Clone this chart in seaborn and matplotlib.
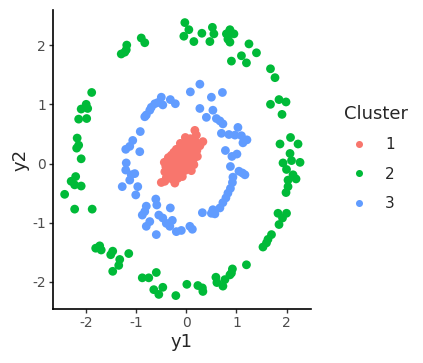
import matplotlib
matplotlib.use("Agg")
import matplotlib.pyplot as plt
import numpy as np
import pandas as pd
import seaborn as sns

# ---- data ----
# cluster 1: dense blob in the middle
c1_y1 = [-0.02, 0.08, 0.17, 0.20,
         -0.12, -0.02, 0.08, 0.18, 0.27, 0.33,
         -0.20, -0.09, 0.01, 0.11, 0.21,
         -0.30, -0.19, -0.11, 0.00, 0.09, 0.16,
         -0.38, -0.27, -0.18, -0.07, 0.03, 0.13,
         -0.41, -0.31, -0.20, -0.10, -0.01, 0.08,
         -0.43, -0.33, -0.22, -0.12, -0.03,
         -0.40, -0.29, -0.17, -0.08,
         -0.50, -0.43, -0.23, -0.35, -0.05, 0.04,
         -0.25, -0.15, -0.05, 0.05, -0.35, -0.25, -0.14, 0.12, 0.22,
         0.15, -0.44, 0.22, -0.36, 0.10]
c1_y2 = [0.44, 0.42, 0.56, 0.48,
         0.34, 0.36, 0.33, 0.37, 0.30, 0.37,
         0.24, 0.26, 0.23, 0.25, 0.22,
         0.14, 0.16, 0.12, 0.15, 0.13, 0.10,
         0.05, 0.04, 0.06, 0.03, 0.05, 0.02,
         -0.05, -0.06, -0.04, -0.05, -0.07, -0.03,
         -0.14, -0.15, -0.16, -0.14, -0.12,
         -0.24, -0.26, -0.25, -0.22,
         -0.32, -0.30, -0.33, -0.20, 0.18, 0.30,
         0.19, 0.20, 0.08, 0.19, -0.10, -0.10, -0.20, 0.30, 0.29,
         -0.02, 0.02, 0.12, 0.10, -0.12]

# cluster 2: outer ring
c2_y1 = [-0.03, 0.05, -0.05, 0.15, 0.31, 0.52, 0.55, 0.47, 0.87, 0.80,
         0.95, 0.83, 0.87, 0.85, 1.25, 1.10, 1.40, 0.90, 1.20, 1.68,
         1.77, 1.68, 1.85, 1.99, 1.91, 2.08, 1.87, 2.23, 2.07, 2.10,
         1.93, 2.27, 2.00, 2.13, 2.19, 2.03, 2.03, 1.99, 1.83, 2.00,
         1.92, 1.85, 1.70, 1.63, 1.60, 1.53, 1.20, 0.92, 0.90, 0.87,
         0.59, 0.61, 0.77, 0.73, 0.01, 0.23, 0.32, 0.33, -0.21, -0.47,
         -0.55, -0.65, -0.60, -0.75, -0.88, -1.15, -1.47, -1.35, -1.33, -1.47,
         -1.51, -1.70, -1.73, -1.81, -1.88, -2.23, -2.43, -2.10, -2.23, -2.30,
         -2.21, -2.10, -2.19, -2.15, -2.18, -2.15, -1.99, -1.97, -2.10, -2.00,
         -1.89, -1.30, -1.23, -1.20, -1.19, -0.90, -0.83]
c2_y2 = [2.38, 2.26, 2.15, 2.06, 2.20, 2.30, 2.19, 2.06, 2.26, 2.19,
         2.19, 2.10, 2.05, 2.21, 2.02, 1.82, 1.87, 1.73, 1.70, 1.60,
         1.45, 1.00, 1.08, 1.04, 0.83, 0.44, 0.33, 0.33, 0.17, 0.05,
         0.01, 0.02, -0.10, -0.19, -0.26, -0.28, -0.39, -0.49, -0.84, -0.84,
         -0.92, -1.03, -1.20, -1.28, -1.34, -1.41, -1.71, -1.78, -1.85, -1.88,
         -1.92, -2.01, -1.96, -2.07, -2.04, -2.06, -2.10, -2.16, -2.23, -2.09,
         -2.21, -2.13, -1.84, -1.93, -1.93, -1.52, -1.82, -1.72, -1.62, -1.48,
         -1.54, -1.46, -1.39, -1.43, -0.77, -0.77, -0.52, -0.38, -0.36, -0.30,
         -0.22, 0.08, 0.26, 0.31, 0.43, 0.75, 0.76, 0.93, 0.92, 1.00,
         1.20, 1.85, 1.88, 1.92, 2.00, 2.12, 2.04]

# cluster 3: inner ring
c3_y1 = [0.27, 0.08, 0.72, 0.50, -0.50, -0.32, -0.22, -0.57, -0.63, -0.47,
         -0.70, -0.73, -0.80, -0.83, 0.27, 0.53, 0.40, 0.60, 0.67, 0.73,
         1.03, 0.70, 0.85, 0.97, 1.10, 1.21, 1.13, 0.78, 0.91, 1.01,
         0.88, 1.05, 1.12, 1.17, 0.93, 0.92, 0.88, 0.83, 0.79, 0.73,
         0.67, 0.53, 0.50, 0.57, 0.32, 0.07, 0.12, -0.10, -0.20, -0.33,
         -0.28, -0.40, -0.32, -0.47, -0.55, -0.60, -0.80, -0.73, -0.88, -0.83,
         -0.80, -0.59, -0.61, -1.01, -0.97, -1.28, -1.13, -1.10, -1.03, -1.21,
         -1.20, -0.93, -1.21, -1.13, -1.07, -0.92]
c3_y2 = [1.34, 1.21, 1.20, 1.12, 1.12, 1.08, 1.01, 1.03, 1.01, 0.99,
         0.95, 0.90, 0.82, 0.79, 0.93, 0.90, 0.78, 0.76, 0.72, 0.67,
         0.61, 0.51, 0.49, 0.48, 0.47, 0.40, 0.35, 0.22, 0.12, 0.16,
         -0.05, -0.13, -0.16, -0.19, -0.23, -0.32, -0.42, -0.50, -0.58, -0.66,
         -0.75, -0.78, -0.84, -0.85, -0.83, -1.06, -1.11, -1.13, -1.15, -1.06,
         -0.96, -1.01, -0.75, -0.92, -0.87, -1.20, -1.06, -0.98, -0.87, -0.81,
         -0.72, -0.70, -0.60, -0.53, -0.39, -0.39, -0.28, -0.19, -0.17, -0.11,
         0.01, 0.20, 0.24, 0.29, 0.39, 0.54]

cluster_names = ["1", "2", "3"]
cluster_colors = ["#F8766D", "#00BA38", "#619CFF"]

df = pd.DataFrame({
    "y1": c1_y1 + c2_y1 + c3_y1,
    "y2": c1_y2 + c2_y2 + c3_y2,
    "Cluster": ["1"] * len(c1_y1) + ["2"] * len(c2_y1) + ["3"] * len(c3_y1),
})

sns.set_style("ticks")
plt.rcParams["font.family"] = ["DejaVu Sans"]
plt.rcParams["axes.unicode_minus"] = False

fig = plt.figure(figsize=(4.23, 3.63), dpi=100)
ax = fig.add_axes([0.125, 0.149, 0.61, 0.823])

sns.scatterplot(data=df, x="y1", y="y2", hue="Cluster", hue_order=cluster_names,
                palette=cluster_colors, s=40, linewidth=0, alpha=1, ax=ax)

ax.set_xlim(-2.665, 2.487)
ax.set_ylim(-2.455, 2.59)
ax.set_xticks([-2, -1, 0, 1, 2])
ax.set_yticks([-2, -1, 0, 1, 2])
ax.set_xlabel("y1", fontsize=13, labelpad=2)
ax.set_ylabel("y2", fontsize=13, labelpad=2)
ax.tick_params(axis="both", labelsize=10, labelcolor="#4D4D4D", color="#333333",
               length=3, width=1, pad=2)
sns.despine(ax=ax)
for side in ["left", "bottom"]:
    ax.spines[side].set_linewidth(1.2)
    ax.spines[side].set_color("black")

leg = ax.legend(title="Cluster", loc="center left", bbox_to_anchor=(0.78, 0.565),
                bbox_transform=fig.transFigure, frameon=False, fontsize=11,
                title_fontsize=13, markerscale=0.8, handletextpad=0.7,
                labelspacing=0.95)
leg._legend_box.align = "left"

fig.savefig("out.png", dpi=100)
